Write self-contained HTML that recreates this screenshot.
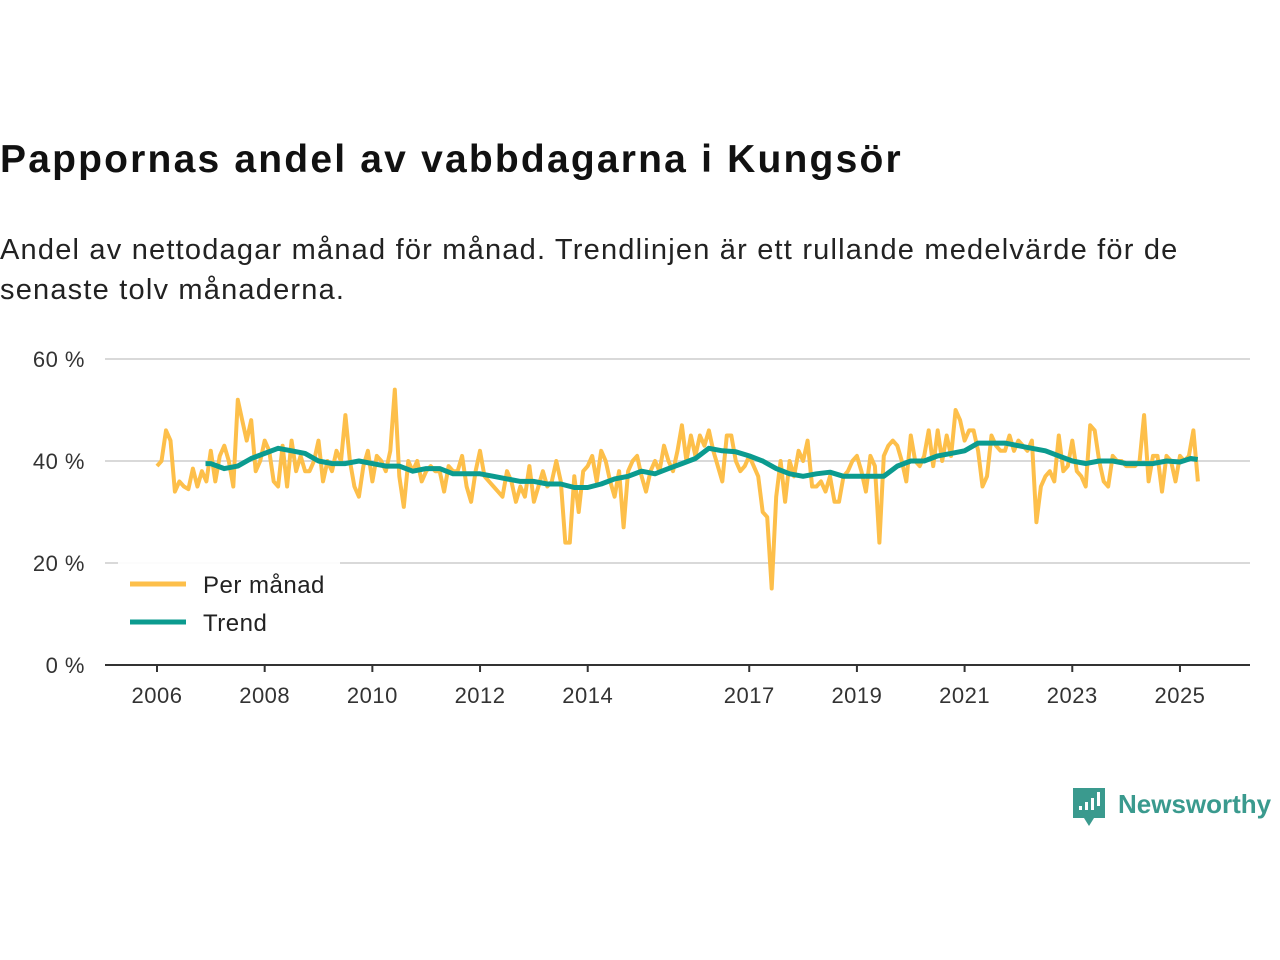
<!DOCTYPE html>
<html><head><meta charset="utf-8"><style>
body{margin:0;width:1280px;height:960px;background:#fff;font-family:"Liberation Sans",sans-serif;overflow:hidden;position:relative;color:#111}
h1{position:absolute;left:0;top:138px;margin:0;font-size:39px;font-weight:bold;letter-spacing:2.2px}
.sub{position:absolute;left:0;top:230px;font-size:29px;line-height:40px;width:1232px;color:#222;letter-spacing:1.2px}
svg{position:absolute;left:0;top:0}
</style></head><body>
<h1>Pappornas andel av vabbdagarna i Kungsör</h1>
<div class="sub">Andel av nettodagar månad för månad. Trendlinjen är ett rullande medelvärde för de senaste tolv månaderna.</div>
<svg id="c" width="1280" height="960"></svg>
<script>
const startYear = 2006;
const monthly = [
39,40,46,44,34,36,35,34.5,38.5,35,38,36,
42,36,41,43,40,35,52,48,44,48,38,40,
44,42,36,35,43,35,44,38,41,38,38,40,
44,36,40,38,42,40,49,40,35,33,39,42,
36,41,40,38,42,54,37,31,40,38,40,36,
38,39,38,38,34,39,38,38,41,35,32,38,
42,37,36,35,34,33,38,36,32,35,33,39,
32,35,38,35,36,40,36,24,24,37,30,38,
39,41,36,42,40,36,33,38,27,38,40,41,
37,34,38,40,38,43,40,38,42,47,40,45,
41,45,43,46,42,39,36,45,45,40,38,39,
41,39,37,30,29,15,33,40,32,40,37,42,
40,44,35,35,36,34,37,32,32,37,38,40,
41,38,34,41,39,24,41,43,44,43,40,36,
45,40,39,41,46,39,46,40,45,41,50,48,
44,46,46,42,35,37,45,43,42,42,45,42,
44,43,42,44,28,35,37,38,36,45,38,39,
44,38,37,35,47,46,40,36,35,41,40,40,
39,39,39,40,49,36,41,41,34,41,40,36,
41,40,41,46,36];
const trendTimes = [2006.9,2007,2007.25,2007.5,2007.75,2008,2008.25,2008.5,2008.75,2009,2009.25,2009.5,2009.75,2010,2010.25,2010.5,2010.75,2011,2011.25,2011.5,2011.75,2012,2012.25,2012.5,2012.75,2013,2013.25,2013.5,2013.75,2014,2014.25,2014.5,2014.75,2015,2015.25,2015.5,2015.75,2016,2016.25,2016.5,2016.75,2017,2017.25,2017.5,2017.75,2018,2018.25,2018.5,2018.75,2019,2019.25,2019.5,2019.75,2020,2020.25,2020.5,2020.75,2021,2021.25,2021.5,2021.75,2022,2022.25,2022.5,2022.75,2023,2023.25,2023.5,2023.75,2024,2024.25,2024.5,2024.75,2025,2025.2,2025.33];
const trendValues = [39.5,39.5,38.5,39,40.5,41.5,42.5,42,41.5,40,39.5,39.5,40,39.5,39,39,38,38.5,38.5,37.5,37.5,37.5,37,36.5,36,36,35.5,35.5,34.8,34.8,35.5,36.5,37,38,37.5,38.5,39.5,40.5,42.5,42,41.8,41,40,38.5,37.5,37,37.5,37.8,37,37,37,37,39,40,40,41,41.5,42,43.5,43.5,43.5,43,42.5,42,41,40,39.5,40,40,39.5,39.5,39.5,40,39.8,40.5,40.3];
const yTicks = [0,20,40,60];
const xTicks = [2006,2008,2010,2012,2014,2017,2019,2021,2023,2025];

const svg=document.getElementById('c');const NS='http://www.w3.org/2000/svg';
const X=t=>157+(t-2006)*53.84;
const Y=v=>665-v*5.1;
function mk(tag,attrs,parent){const e=document.createElementNS(NS,tag);for(const k in attrs)e.setAttribute(k,attrs[k]);(parent||svg).appendChild(e);return e;}
yTicks.forEach(v=>{
  if(v>0){const g=mk('line',{x1:105,x2:1250,y1:Y(v),y2:Y(v),stroke:'#d9d9d9','stroke-width':2});
  
  }
  const t=mk('text',{x:85,y:Y(v)+8,'text-anchor':'end','font-size':22,fill:'#333','font-family':'Liberation Sans, sans-serif','letter-spacing':'0.5'});
  t.textContent=v+' %';
  
  
});
const ax=mk('line',{x1:105,x2:1250,y1:665,y2:665,stroke:'#333','stroke-width':2});


xTicks.forEach(yr=>{
  mk('line',{x1:X(yr),x2:X(yr),y1:665,y2:672,stroke:'#333','stroke-width':2});
  const t=mk('text',{x:X(yr),y:703,'text-anchor':'middle','font-size':22,fill:'#333','font-family':'Liberation Sans, sans-serif','letter-spacing':'0.5'});
  t.textContent=yr;
  
  
});
const mp=monthly.map((v,i)=>X(startYear+i/12).toFixed(1)+','+Y(v).toFixed(1)).join(' ');
const m=mk('polyline',{points:mp,fill:'none',stroke:'#fdbf4a','stroke-width':4,'stroke-linejoin':'round'});


const tp=trendTimes.map((t,i)=>X(t).toFixed(1)+','+Y(trendValues[i]).toFixed(1)).join(' ');
const tr=mk('polyline',{points:tp,fill:'none',stroke:'#0b9b8f','stroke-width':5,'stroke-linejoin':'round'});


const lg=mk('g',{});


mk('rect',{x:118,y:562,width:222,height:80,fill:'#fff',opacity:0.9},lg);
mk('line',{x1:130,x2:186,y1:584,y2:584,stroke:'#fdbf4a','stroke-width':5},lg);
mk('line',{x1:130,x2:186,y1:622,y2:622,stroke:'#0b9b8f','stroke-width':5},lg);
const l1=mk('text',{x:203,y:593,'font-size':24,fill:'#222','letter-spacing':'0.5'},lg);l1.textContent='Per månad';


const l2=mk('text',{x:203,y:631,'font-size':24,fill:'#222','letter-spacing':'0.5'},lg);l2.textContent='Trend';


const lo=mk('g',{});


mk('path',{d:'M1073 788 h32 v30 h-11 l-5 8 l-5 -8 h-11 z',fill:'#3a9a8e'},lo);
[[1079,806,4],[1085,802,8],[1091,798,12],[1097,792,14]].forEach(b=>mk('rect',{x:b[0],y:b[1],width:3,height:b[2],fill:'#fff'},lo));
const lt=mk('text',{x:1118,y:813,'font-size':26,fill:'#3a9a8e','font-weight':'bold'},lo);lt.textContent='Newsworthy';
</script>
</body></html>
